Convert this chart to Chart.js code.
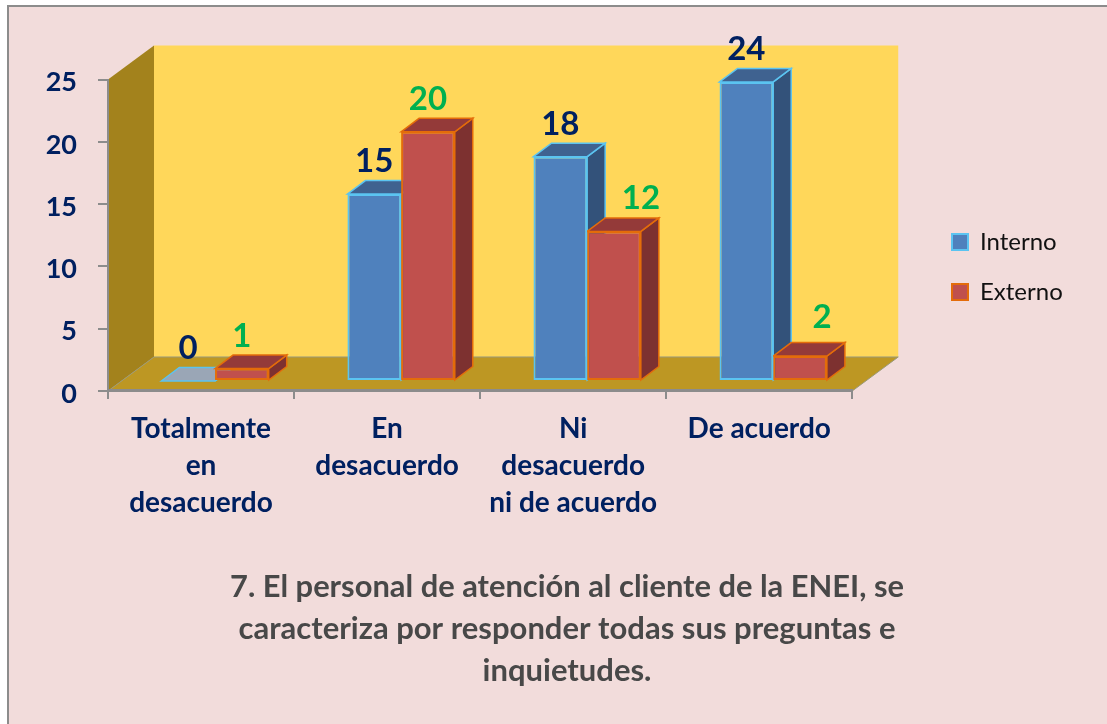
<!DOCTYPE html>
<html><head><meta charset="utf-8">
<style>html,body{margin:0;padding:0;background:#fff}#w{width:1107px;height:724px}canvas{display:block}</style>
<script src="https://cdn.jsdelivr.net/npm/chart.js@4"></script>
</head><body><div id="w"><canvas id="c"></canvas></div>
<script>
const categories = [["Totalmente","en","desacuerdo"],["En","desacuerdo"],["Ni","desacuerdo","ni de acuerdo"],"De acuerdo"];
const interno = [0,15,18,24];
const externo = [1,20,12,2];
const seriesNames = ["Interno","Externo"];
const yTicks = [0,5,10,15,20,25];
const titleLines = ["7. El personal de atención al cliente de la ENEI, se","caracteriza por responder todas sus preguntas e","inquietudes."];

const FONT = "Lato, Carlito, 'Open Sans', sans-serif";
const NAVY = "#002060", GREEN = "#00B050";
const WALL = {dx:46, dy:-34}, BAR_OFF = {dx:14, dy:-10}, BAR_D = {dx:18, dy:-13.5};
const SKIN = [
  {front:"#4F81BD", top:"#3F6290", side:"#33527A", line:"#5BC4F1", label:NAVY},
  {front:"#C0504D", top:"#943A39", side:"#7D3130", line:"#E46C0A", label:GREEN}
];
const labelNudge = [[[0,0],[0,0],[0,0],[0,0]],[[0,0],[0,0],[27,0],[22,-6]]];

function poly(ctx,pts,fill,stroke,lw){
  ctx.beginPath();pts.forEach((p,i)=>i?ctx.lineTo(p[0],p[1]):ctx.moveTo(p[0],p[1]));ctx.closePath();
  if(fill){ctx.fillStyle=fill;ctx.fill();}
  if(stroke){ctx.strokeStyle=stroke;ctx.lineWidth=lw||2;ctx.lineJoin="miter";ctx.stroke();}
}
const scene = {
  id:"scene",
  afterLayout(chart){
    const t=chart.titleBlock; t.left=230; t.right=904;
    const l=chart.legend, w=l.width, h=l.height;
    l.left=926; l.right=926+w;
    l.top=267-h/2; l.bottom=267+h/2;
  },
  beforeDraw(chart){
    const {ctx,chartArea:a,width,height}=chart;
    ctx.save();
    ctx.fillStyle="#F2DCDB";ctx.fillRect(8,6,width-8,height-6);
    ctx.strokeStyle="#8C8C8C";ctx.lineWidth=2;
    ctx.beginPath();ctx.moveTo(8,height);ctx.lineTo(8,6);ctx.lineTo(width,6);ctx.stroke();
    const L=a.left,R=a.right,T=a.top,B=a.bottom,dx=WALL.dx,dy=WALL.dy;
    poly(ctx,[[L+dx,T+dy],[R+dx,T+dy],[R+dx,B+dy],[L+dx,B+dy]],"#FFD75A");
    poly(ctx,[[L,T],[L+dx,T+dy],[L+dx,B+dy],[L,B]],"#A3821C");
    poly(ctx,[[L,B],[L+dx,B+dy],[R+dx,B+dy],[R,B]],"#BD9723");
    ctx.strokeStyle="#9A9A7A";ctx.lineWidth=1;
    ctx.beginPath();ctx.moveTo(L,B);ctx.lineTo(L+dx,B+dy);ctx.lineTo(R+dx,B+dy);ctx.lineTo(R,B);ctx.stroke();
    ctx.restore();
  },
  beforeDatasetsDraw(chart){
    const ctx=chart.ctx;
    ctx.save();
    ctx.translate(BAR_OFF.dx,BAR_OFF.dy);
    const n=chart.data.labels.length;
    for(let i=0;i<n;i++){
      [0,1].forEach(d=>{
        const el=chart.getDatasetMeta(d).data[i], s=SKIN[d];
        const hw=el.width/2, x0=el.x-hw, x1=el.x+hw, y0=el.y, yb=el.base;
        const v=chart.data.datasets[d].data[i];
        poly(ctx,[[x1,y0],[x1+BAR_D.dx,y0+BAR_D.dy],[x1+BAR_D.dx,yb+BAR_D.dy],[x1,yb]],s.side,s.line,1.5);
        poly(ctx,[[x0,y0],[x0+BAR_D.dx,y0+BAR_D.dy],[x1+BAR_D.dx,y0+BAR_D.dy],[x1,y0]],v===0?"#9AA6B6":s.top,s.line,1.5);
      });
    }
  },
  afterDatasetsDraw(chart){
    const ctx=chart.ctx;
    ctx.textAlign="center";ctx.textBaseline="alphabetic";
    ctx.font="bold 33px "+FONT;
    [0,1].forEach(d=>{
      chart.getDatasetMeta(d).data.forEach((el,i)=>{
        const n=labelNudge[d][i];
        ctx.fillStyle=SKIN[d].label;
        ctx.fillText(String(chart.data.datasets[d].data[i]),el.x+n[0],el.y-22+n[1]);
      });
    });
    ctx.restore();
  }
};

new Chart(document.getElementById("c"),{
  type:"bar",
  data:{labels:categories,datasets:[
    {label:seriesNames[0],data:interno,backgroundColor:SKIN[0].front,borderColor:SKIN[0].line,borderWidth:2,borderSkipped:false,clip:false,categoryPercentage:0.577,barPercentage:1},
    {label:seriesNames[1],data:externo,backgroundColor:SKIN[1].front,borderColor:SKIN[1].line,borderWidth:2,borderSkipped:false,clip:false,categoryPercentage:0.577,barPercentage:1}
  ]},
  plugins:[scene],
  options:{
    responsive:true,maintainAspectRatio:false,animation:false,
    layout:{padding:{left:0,right:108,top:79.5,bottom:32}},
    scales:{
      x:{
        afterFit(s){s.height=175;},
        grid:{offset:true,drawOnChartArea:false,drawTicks:true,tickLength:8,color:"#8C8C8C",lineWidth:2},
        border:{display:true,color:"#8C8C8C",width:3},
        ticks:{color:NAVY,font:{family:FONT,size:28,weight:"bold",lineHeight:1.32},padding:12,maxRotation:0,autoSkip:false}
      },
      y:{
        min:0,max:25,
        afterFit(s){s.width=108;},
        afterBuildTicks(s){s.ticks=yTicks.map(v=>({value:v}));},
        grid:{drawOnChartArea:false,drawTicks:true,tickLength:10,color:"#8C8C8C",lineWidth:2},
        border:{display:true,color:"#8C8C8C",width:2},
        ticks:{color:NAVY,font:{family:FONT,size:27,weight:"bold"},padding:21,labelOffset:3}
      }
    },
    plugins:{
      tooltip:{enabled:false},
      legend:{display:true,position:"right",align:"center",
        labels:{boxWidth:16,boxHeight:16,padding:26,color:"#111",font:{family:FONT,size:24}}},
      title:{display:true,position:"bottom",text:titleLines,color:"#484848",align:"center",
        font:{family:FONT,size:31,weight:"bold",lineHeight:1.355},padding:0}
    }
  }
});
</script></body></html>
